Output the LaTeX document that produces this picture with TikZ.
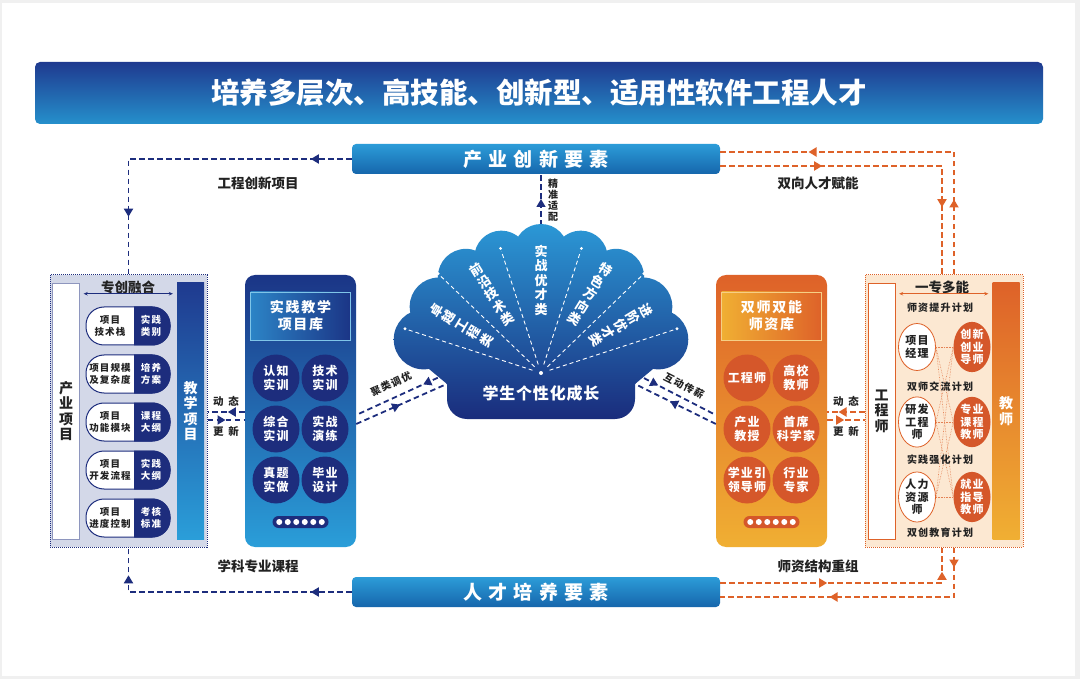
\documentclass[tikz,border=0pt]{standalone}
\usepackage{fontspec}
\setmainfont{Noto Sans CJK SC}
\usetikzlibrary{arrows.meta,decorations.markings,shapes.geometric,positioning,calc}

\definecolor{navy}{HTML}{1D2D7D}
\definecolor{titletop}{HTML}{1F3A8F}
\definecolor{titlebot}{HTML}{2590CC}
\definecolor{bartop}{HTML}{2C9CD8}
\definecolor{barbot}{HTML}{1666AC}
\definecolor{skyblue}{HTML}{2A9ED9}
\definecolor{panelblue}{HTML}{1B3586}
\definecolor{headblue}{HTML}{2C84C6}
\definecolor{deeporange}{HTML}{DE6229}
\definecolor{gold}{HTML}{F0AF33}
\definecolor{rust}{HTML}{D5572A}
\definecolor{peach}{HTML}{FCE8D2}
\definecolor{lavender}{HTML}{D3D8E8}
\definecolor{ink}{HTML}{222222}
\definecolor{fantop}{HTML}{2B98D6}
\definecolor{fanbot}{HTML}{1A2C7C}

\newcommand\fs[2]{\fontsize{#1}{#2}\selectfont}
\newcommand\ls[1]{\addfontfeature{LetterSpace=#1}}

\tikzset{
  every node/.style={inner sep=0pt},
  >={Triangle[length=8pt,width=9pt]},
  bluedash/.style={navy, line width=1.8pt, dash pattern=on 5.5pt off 3.5pt},
  orangedash/.style={deeporange, line width=1.8pt, dash pattern=on 5.5pt off 3.5pt},
  arrowat/.style={postaction={decorate},
    decoration={markings, mark=at position #1 with {\arrow{>}}}},
  arrowsat/.style 2 args={postaction={decorate},
    decoration={markings, mark=at position #1 with {\arrow{>}},
      mark=at position #2 with {\arrow{>}}}},
  titlebar/.style={rounded corners=5pt, minimum width=1008pt, minimum height=62pt,
    top color=titletop, bottom color=titlebot, text=white, font=\bfseries\fs{28.5}{32}},
  keybar/.style={rounded corners=4pt, minimum width=368pt, minimum height=30pt,
    top color=bartop, bottom color=barbot, text=white, font=\bfseries\fs{19}{22}\ls{33}},
  lab/.style={text=ink, font=\bfseries\fs{13.5}{15}},
  planlab/.style={text=ink, font=\bfseries\fs{10}{12}\ls{12}},
  duallab/.style={text=ink, font=\bfseries\fs{10.5}{12}\ls{45}},
  colbar/.style={minimum width=27pt, minimum height=256pt, align=center,
    font=\bfseries\fs{14}{15.5}},
  panel/.style={rounded corners=10pt, minimum width=111pt, minimum height=272pt},
  head/.style={minimum width=100pt, minimum height=48pt, align=center,
    text=white, font=\bfseries\fs{14}{17}\ls{12}},
  disc/.style={circle, minimum size=47pt, align=center, text=white,
    font=\bfseries\fs{12}{14}\ls{10}},
  oval/.style={ellipse, minimum width=37pt, minimum height=47pt, align=center,
    font=\bfseries\fs{11}{12.5}\ls{10}},
  pilltext/.style={align=center, font=\bfseries\fs{9.5}{11.5}\ls{12}},
  ray/.style={white, line width=0.9pt, dash pattern=on 4pt off 3pt},
  fantext/.style={align=center, text=white, font=\bfseries\fs{13}{14.5}},
}

\begin{document}
\begin{tikzpicture}[x=1pt,y=-1pt]
\useasboundingbox (0,0) rectangle (1080,679);
\fill[gray!12] (0,0) rectangle (1080,679);
\fill[white] (2,3) rectangle (1075,676);

% title and the two element bars
\node[titlebar] (title) at (539,93) {培养多层次、高技能、创新型、适用性软件工程人才};
\node[keybar] (topbar) at (536,159) {产业创新要素};
\node[keybar] (botbar) at (536,592) {人才培养要素};

% left panel
\node[draw=navy, densely dotted, line width=1pt, fill=lavender,
  minimum width=157pt, minimum height=272pt] (lpanel) at (128.5,411) {};
\node[colbar, draw=navy!50, fill=white, text=ink] (lind) at (66,411) {产\\业\\项\\目};
\node[colbar, top color=titletop, bottom color=skyblue, text=white] (lteach) at (190.5,411) {教\\学\\项\\目};
\node[lab] (fuse) at (128,287) {专创融合};
\draw[navy, line width=0.8pt, {Stealth[length=4pt,width=3.5pt]}-{Stealth[length=4pt,width=3.5pt]},
  shorten <=4pt, shorten >=4pt] (lind.east |- fuse.south) -- (lteach.west |- fuse.south);
\foreach \y/\l/\r [count=\i] in {326/{项目\\技术栈}/{实践\\类别}, 374/{项目规模\\及复杂度}/{培养\\方案},
    422/{项目\\功能模块}/{课程\\大纲}, 470/{项目\\开发流程}/{实践\\大纲}, 518/{项目\\进度控制}/{考核\\标准}}{
  \draw[navy, line width=1pt, fill=white, rounded corners=18pt] (86,\y-19) rectangle (170,\y+19);
  \begin{scope}
    \clip (134,\y-21) rectangle (172,\y+21);
    \fill[navy, rounded corners=18pt] (86,\y-19.5) rectangle (170.5,\y+19.5);
  \end{scope}
  \node[pilltext, text=ink] (pl\i) at (110,\y) {\l};
  \node[pilltext, text=white] (pr\i) at (151,\y) {\r};
}

% practice project library
\node[panel, top color=panelblue, bottom color=skyblue] (bpanel) at (300.5,411) {};
\node[head, left color=headblue, right color=panelblue, draw=skyblue!60!white, line width=0.6pt]
  (bhead) at (300.5,316) {实践教学\\项目库};
\foreach \x/\y/\t [count=\i] in {276/378/{认知\\实训}, 325/378/{技术\\实训}, 276/429/{综合\\实训},
    325/429/{实战\\演练}, 276/480/{真题\\实做}, 325/480/{毕业\\设计}}
  \node[disc, fill=navy] (b\i) at (\x,\y) {\t};
\node[fill=navy, rounded corners=6pt, minimum width=56pt, minimum height=12pt] (bdots) at (300.5,522) {};
\foreach \k in {0,...,5}
  \fill[white] (279.25+8.5*\k,522) circle[radius=3pt];

% teacher library
\node[panel, top color=deeporange, bottom color=gold] (opanel) at (771.5,411) {};
\node[head, left color=gold, right color=deeporange, draw=gold!60!white, line width=0.6pt]
  (ohead) at (771.5,316) {双师双能\\师资库};
\foreach \x/\y/\t [count=\i] in {747/378/{工程师}, 796/378/{高校\\教师}, 747/429/{产业\\教授},
    796/429/{首席\\科学家}, 747/480/{学业引\\领导师}, 796/480/{行业\\专家}}
  \node[disc, fill=rust] (o\i) at (\x,\y) {\t};
\node[fill=rust, rounded corners=6pt, minimum width=56pt, minimum height=12pt] (odots) at (771.5,522) {};
\foreach \k in {0,...,5}
  \fill[white] (750.25+8.5*\k,522) circle[radius=3pt];

% right panel
\node[draw=deeporange, densely dotted, line width=1pt, fill=peach,
  minimum width=158pt, minimum height=272pt] (rpanel) at (944,411) {};
\node[colbar, draw=deeporange, fill=white, text=ink] (rind) at (881.5,411) {工\\程\\师};
\node[colbar, top color=deeporange, bottom color=gold, text=white] (rteach) at (1006,411) {教\\师};
\node[lab] (multi) at (942,287) {一专多能};
\draw[deeporange, line width=0.8pt, {Stealth[length=4pt,width=3.5pt]}-{Stealth[length=4pt,width=3.5pt]},
  shorten <=4pt, shorten >=4pt] (rind.east |- multi.south) -- (rteach.west |- multi.south);
\foreach \y/\a/\b [count=\i] in {347/{项目\\经理}/{创新\\创业\\导师}, 422/{研发\\工程\\师}/{专业\\课程\\教师},
    497/{人力\\资源\\师}/{就业\\指导\\教师}}{
  \node[oval, draw=deeporange, line width=0.8pt, fill=white, text=ink] (e\i) at (917,\y) {\a};
  \node[oval, fill=rust, text=white] (t\i) at (972,\y) {\b};
}
\foreach \i in {1,2,3}
  \foreach \j in {1,2,3}
    \draw[deeporange!80, line width=0.6pt, densely dotted] (e\i.east) -- (t\j.west);
\foreach \y/\t [count=\i] in {308/师资提升计划, 387/双师交流计划, 460/实践强化计划, 533/双创教育计划}
  \node[planlab] (plan\i) at (940,\y) {\t};

% loops through the element bars
\draw[bluedash, arrowsat={41pt}{281pt}] (topbar.west) -| (lpanel.north);
\draw[bluedash, arrowsat={41pt}{240pt}] (botbar.west) -| (lpanel.south);
\draw[orangedash, arrowsat={75pt}{268pt}] ([xshift=10pt]rpanel.north) |- ([yshift=7pt]topbar.east);
\draw[orangedash, arrowsat={102pt}{263pt}] ([yshift=-7pt]topbar.east) -| ([xshift=-2pt]rpanel.north);
\draw[orangedash, arrowsat={20pt}{174pt}] ([xshift=10pt]rpanel.south) |- ([yshift=-5pt]botbar.east);
\draw[orangedash, arrowsat={107pt}{233pt}] ([yshift=9pt]botbar.east) -| ([xshift=-2pt]rpanel.south);
\node[lab] (eng) at (258,183) {工程创新项目};
\node[lab] (twoway) at (818,183) {双向人才赋能};
\node[lab] (course) at (258,566) {学科专业课程};
\node[lab] (restr) at (818,566) {师资结构重组};

% dynamic update between panels
\draw[bluedash, arrowat=17pt] ([yshift=-1pt]bpanel.west) -- ([yshift=-1pt]lpanel.east);
\draw[bluedash, arrowat=18pt] ([yshift=-9pt]lpanel.east) -- ([yshift=-9pt]bpanel.west);
\draw[orangedash, arrowat=26pt] ([yshift=-1pt]rpanel.west) -- ([yshift=-1pt]opanel.east);
\draw[orangedash, arrowat=17pt] ([yshift=-9pt]opanel.east) -- ([yshift=-9pt]rpanel.west);
\node[duallab] (dynl) at (226,401) {动态};
\node[duallab] (updl) at (226,431) {更新};
\node[duallab] (dynr) at (846,401) {动态};
\node[duallab] (updr) at (846,431) {更新};

% links to the fan
\coordinate (fanc) at (541,373);
\coordinate (ftop) at (541,226);
\coordinate (fl1) at (446,374);
\coordinate (fl2) at (449,383);
\coordinate (fr1) at (636,374);
\coordinate (fr2) at (633,383);
\draw[bluedash, arrowat=25pt] (fl1) -- ([yshift=-4pt]bpanel.east);
\draw[bluedash, arrowat=48pt] ([yshift=-13pt]bpanel.east) -- (fl2);
\draw[bluedash, arrowat=25pt] (fr1) -- ([yshift=-4pt]opanel.west);
\draw[bluedash, arrowat=51pt] ([yshift=-13pt]opanel.west) -- (fr2);
\draw[bluedash, line width=1.4pt, arrowat=27pt] (ftop) -- (ftop |- topbar.south);
\node[planlab, align=center, font=\bfseries\fs{10}{11}] (fit) at (553,200) {精\\准\\适\\配};
\node[planlab, rotate=25] (clus) at (391,384) {聚类调优};
\node[planlab, rotate=-27] (inter) at (684,386) {互动传薪};

% fan of talent types
\shade[top color=fantop, bottom color=fanbot]
  (429,369) -- (447,384) -- (447,399) -- (467,419) -- (615,419) -- (635,399) -- (635,384) -- (653,369)
  -- (658.3,339.4) -- (643.3,306.6) -- (616.1,276.9) -- (580.7,257.6) -- (541,251) -- (501.3,257.6)
  -- (465.9,276.9) -- (438.7,306.6) -- (423.7,339.4) -- cycle
  \foreach \a/\s in {164/30,147/29,128/28,109/27,90/27,71/27,52/28,33/29,16/30} { ($(fanc)+(-\a:122)$) circle[radius=\s pt] }
  (467,399) circle[radius=20pt] (615,399) circle[radius=20pt];
\foreach \a/\r in {162/140, 136/140, 108/128, 72/128, 44/140, 18/140} {
  \draw[ray] ($(fanc)+(-\a:9)$) -- ($(fanc)+(-\a:\r)$);
  \fill[white] ($(fanc)+(-\a:\r+3)$) circle[radius=1.6pt];
}
\fill[white] (fanc) circle[radius=2pt];
\foreach \a/\t [count=\i] in {149/{卓\\越\\工\\程\\类}, 122/{前\\沿\\技\\术\\类}, 90/{实\\战\\优\\才\\类},
    58/{特\\色\\方\\向\\类}, 31/{进\\阶\\优\\才\\类}}
  \node[fantext, rotate=\a-90] (cat\i) at ($(fanc)+(-\a:93)$) {\t};
\node[text=white, font=\bfseries\fs{16}{18}\ls{5}] (grow) at (541,393) {学生个性化成长};
\end{tikzpicture}
\end{document}
